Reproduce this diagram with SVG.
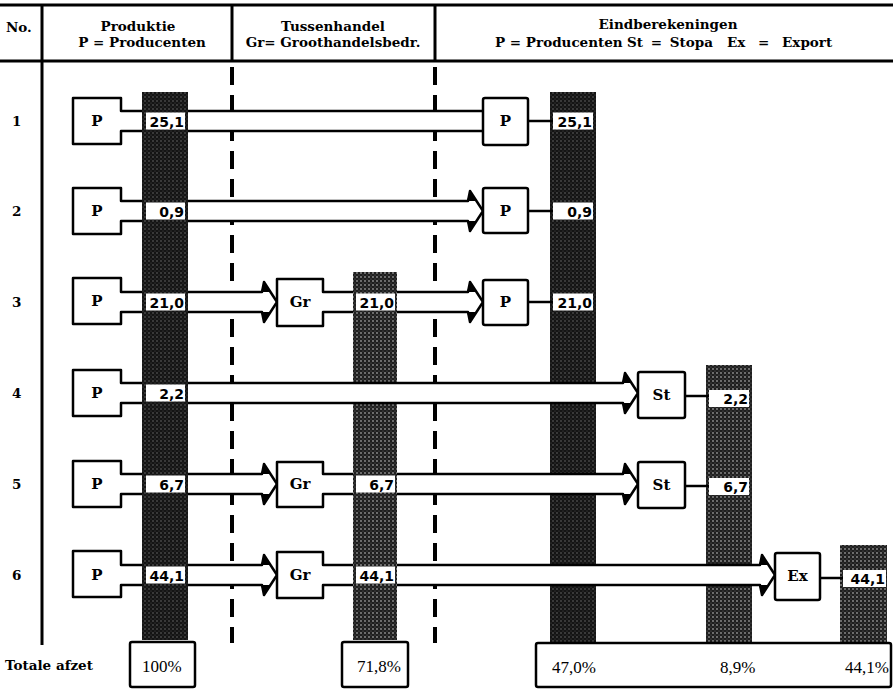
<svg xmlns="http://www.w3.org/2000/svg" width="893" height="689" viewBox="0 0 893 689">
<style>
.frame{stroke:#000;stroke-width:3;fill:none}
.dash{stroke:#000;stroke-width:4;fill:none;stroke-dasharray:18 10}
.band{fill:#fff;stroke:#000;stroke-width:2.5;stroke-linejoin:round}
.barb{fill:#000}
.box{fill:#fff;stroke:#000;stroke-width:2.5;stroke-linejoin:round}
.wire{stroke:#000;stroke-width:2.5;fill:none}
.lblbg{fill:#fff}
.lbl{font-family:"DejaVu Sans",sans-serif;font-weight:bold;font-size:14px;text-anchor:end;fill:#000}
.hd{font-family:"DejaVu Serif",serif;font-weight:bold;font-size:13.5px;fill:#000}
.mid{text-anchor:middle}
.bx{font-family:"DejaVu Serif",serif;font-weight:bold;font-size:15px;text-anchor:middle;fill:#000}
.tot{font-family:"Liberation Serif",serif;font-size:17px;fill:#000}
.barA{fill:url(#stipDark)}
.barB{fill:url(#stipMid)}
</style>
<defs>
<pattern id="stipDark" width="4" height="4" patternUnits="userSpaceOnUse">
<rect width="4" height="4" fill="#141414"/>
<circle cx="1" cy="1" r="0.7" fill="#7a7a7a"/>
<circle cx="3" cy="3" r="0.5" fill="#555"/>
</pattern>
<pattern id="stipMid" width="4" height="4" patternUnits="userSpaceOnUse">
<rect width="4" height="4" fill="#1e1e1e"/>
<circle cx="1" cy="1" r="0.9" fill="#909090"/>
<circle cx="3" cy="3" r="0.6" fill="#666"/>
</pattern>
</defs>
<rect width="893" height="689" fill="#fff"/>

<g id="frame">
<line class="frame" x1="0" y1="5" x2="893" y2="5"/>
<line class="frame" x1="0" y1="61" x2="893" y2="61"/>
<line class="frame" x1="42" y1="5" x2="42" y2="645"/>
<line class="frame" x1="232" y1="5" x2="232" y2="61"/>
<line class="frame" x1="435" y1="5" x2="435" y2="61"/>
<line class="dash" x1="232" y1="67" x2="232" y2="643"/>
<line class="dash" x1="435" y1="67" x2="435" y2="643"/>
</g>

<g id="header">
<text class="hd" x="6" y="32">No.</text>
<text class="hd mid" x="138" y="31">Produktie</text>
<text class="hd mid" x="142" y="47">P = Producenten</text>
<text class="hd mid" x="333" y="31">Tussenhandel</text>
<text class="hd mid" x="333" y="47">Gr= Groothandelsbedr.</text>
<text class="hd mid" x="668" y="29">Eindberekeningen</text>
<text class="hd" x="495" y="47" font-size="12.5">P = Producenten</text>
<text class="hd" x="627" y="47" font-size="12.5" word-spacing="3">St = Stopa</text>
<text class="hd" x="727" y="47" font-size="12.5" word-spacing="8">Ex = Export</text>
</g>

<g id="row-numbers">
<text class="hd" x="12" y="126">1</text>
<text class="hd" x="12" y="216">2</text>
<text class="hd" x="12" y="307">3</text>
<text class="hd" x="12" y="398">4</text>
<text class="hd" x="12" y="489">5</text>
<text class="hd" x="12" y="580">6</text>
<text class="hd" x="5" y="670" font-size="14">Totale afzet</text>
</g>

<g id="bars">
<rect class="barA" x="142" y="92" width="46" height="548"/>
<rect class="barB" x="353" y="272" width="44" height="368"/>
<rect class="barA" x="550" y="92" width="46" height="550"/>
<rect class="barB" x="706" y="365" width="46" height="277"/>
<rect class="barB" x="840" y="545" width="47" height="97"/>
</g>

<g id="connectors">
<path class="band" d="M188,111 H484 V131 H188"/>
<path class="band" d="M188,201 H468 L470,191 L483,211 L470,231 L468,221 H188"/>
<path class="barb" d="M467,201 L470,191 L476.5,201 Z M467,221 L470,231 L476.5,221 Z"/>
<path class="band" d="M188,292 H262 L264,282 L277,302 L264,322 L262,312 H188"/>
<path class="barb" d="M261,292 L264,282 L270.5,292 Z M261,312 L264,322 L270.5,312 Z"/>
<path class="band" d="M397,292 H468 L470,282 L483,302 L470,322 L468,312 H397"/>
<path class="barb" d="M467,292 L470,282 L476.5,292 Z M467,312 L470,322 L476.5,312 Z"/>
<path class="band" d="M188,383 H623 L625,373 L638,393 L625,413 L623,403 H188"/>
<path class="barb" d="M622,383 L625,373 L631.5,383 Z M622,403 L625,413 L631.5,403 Z"/>
<path class="band" d="M188,474 H262 L264,464 L277,484 L264,504 L262,494 H188"/>
<path class="barb" d="M261,474 L264,464 L270.5,474 Z M261,494 L264,504 L270.5,494 Z"/>
<path class="band" d="M397,474 H623 L625,464 L638,484 L625,504 L623,494 H397"/>
<path class="barb" d="M622,474 L625,464 L631.5,474 Z M622,494 L625,504 L631.5,494 Z"/>
<path class="band" d="M188,565 H262 L264,555 L277,575 L264,595 L262,585 H188"/>
<path class="barb" d="M261,565 L264,555 L270.5,565 Z M261,585 L264,595 L270.5,585 Z"/>
<path class="band" d="M397,565 H760 L762,555 L775,575 L762,595 L760,585 H397"/>
<path class="barb" d="M759,565 L762,555 L768.5,565 Z M759,585 L762,595 L768.5,585 Z"/>
<line class="wire" x1="528" y1="121" x2="553" y2="121"/>
<line class="wire" x1="528" y1="211" x2="553" y2="211"/>
<line class="wire" x1="528" y1="302" x2="553" y2="302"/>
<line class="wire" x1="685" y1="396" x2="709" y2="396"/>
<line class="wire" x1="685" y1="486" x2="709" y2="486"/>
<line class="wire" x1="820" y1="578" x2="843" y2="578"/>
</g>

<g id="p1"><path class="box" d="M142,111 H121 V98 H73 V144 H121 V131 H142"/><text class="bx" x="97" y="126">P</text></g>
<g id="p2"><path class="box" d="M142,201 H121 V188 H73 V234 H121 V221 H142"/><text class="bx" x="97" y="216">P</text></g>
<g id="p3"><path class="box" d="M142,292 H121 V278 H73 V324 H121 V312 H142"/><text class="bx" x="97" y="306">P</text></g>
<g id="p4"><path class="box" d="M142,383 H121 V370 H73 V416 H121 V403 H142"/><text class="bx" x="97" y="398">P</text></g>
<g id="p5"><path class="box" d="M142,474 H121 V461 H73 V507 H121 V494 H142"/><text class="bx" x="97" y="489">P</text></g>
<g id="p6"><path class="box" d="M142,565 H121 V551 H73 V597 H121 V585 H142"/><text class="bx" x="97" y="580">P</text></g>

<g id="gr3"><path class="box" d="M353,292 H323 V279 H277 V326 H323 V312 H353"/><text class="bx" x="300" y="307">Gr</text></g>
<g id="gr5"><path class="box" d="M353,474 H323 V462 H277 V507 H323 V494 H353"/><text class="bx" x="300" y="489">Gr</text></g>
<g id="gr6"><path class="box" d="M353,565 H323 V552 H277 V598 H323 V585 H353"/><text class="bx" x="300" y="580">Gr</text></g>

<g id="e1"><rect class="box" x="483" y="98" width="45" height="47" rx="2"/><text class="bx" x="505.5" y="126">P</text></g>
<g id="e2"><rect class="box" x="483" y="188" width="45" height="45" rx="2"/><text class="bx" x="505.5" y="216">P</text></g>
<g id="e3"><rect class="box" x="483" y="280" width="45" height="45" rx="2"/><text class="bx" x="505.5" y="307">P</text></g>
<g id="st4"><rect class="box" x="638" y="372" width="47" height="46" rx="2"/><text class="bx" x="661.5" y="400">St</text></g>
<g id="st5"><rect class="box" x="638" y="462" width="47" height="46" rx="2"/><text class="bx" x="661.5" y="490">St</text></g>
<g id="ex6"><rect class="box" x="775" y="553" width="45" height="47" rx="2"/><text class="bx" x="797.5" y="581">Ex</text></g>

<g id="labels">
<rect class="lblbg" x="146" y="112.5" width="39" height="17"/><text class="lbl" x="184" y="126.5">25,1</text>
<rect class="lblbg" x="146" y="202.5" width="39" height="17"/><text class="lbl" x="184" y="216.5">0,9</text>
<rect class="lblbg" x="146" y="293.5" width="39" height="17"/><text class="lbl" x="184" y="307.5">21,0</text>
<rect class="lblbg" x="146" y="384.5" width="39" height="17"/><text class="lbl" x="184" y="398.5">2,2</text>
<rect class="lblbg" x="146" y="475.5" width="39" height="17"/><text class="lbl" x="184" y="489.5">6,7</text>
<rect class="lblbg" x="146" y="566.5" width="39" height="17"/><text class="lbl" x="184" y="580.5">44,1</text>
<rect class="lblbg" x="356" y="293.5" width="39" height="17"/><text class="lbl" x="394" y="307.5">21,0</text>
<rect class="lblbg" x="356" y="475.5" width="39" height="17"/><text class="lbl" x="394" y="489.5">6,7</text>
<rect class="lblbg" x="356" y="566.5" width="39" height="17"/><text class="lbl" x="394" y="580.5">44,1</text>
<rect class="lblbg" x="553" y="112.5" width="40" height="17"/><text class="lbl" x="592" y="126.5">25,1</text>
<rect class="lblbg" x="553" y="202.5" width="40" height="17"/><text class="lbl" x="592" y="216.5">0,9</text>
<rect class="lblbg" x="553" y="293.5" width="40" height="17"/><text class="lbl" x="592" y="307.5">21,0</text>
<rect class="lblbg" x="709" y="390" width="40" height="17"/><text class="lbl" x="748" y="404">2,2</text>
<rect class="lblbg" x="709" y="478" width="40" height="17"/><text class="lbl" x="748" y="492">6,7</text>
<rect class="lblbg" x="843" y="570" width="43" height="17"/><text class="lbl" x="885" y="584">44,1</text>
</g>

<g id="totals">
<rect class="box" x="130" y="642" width="65" height="45" rx="2"/>
<text class="tot" x="142" y="672">100%</text>
<rect class="box" x="342" y="642" width="66" height="45" rx="2"/>
<text class="tot" x="357" y="672">71,8%</text>
<rect class="box" x="536" y="643" width="355" height="44" rx="2"/>
<text class="tot" x="552" y="673">47,0%</text>
<text class="tot" x="720" y="673">8,9%</text>
<text class="tot" x="845" y="673">44,1%</text>
</g>
</svg>
